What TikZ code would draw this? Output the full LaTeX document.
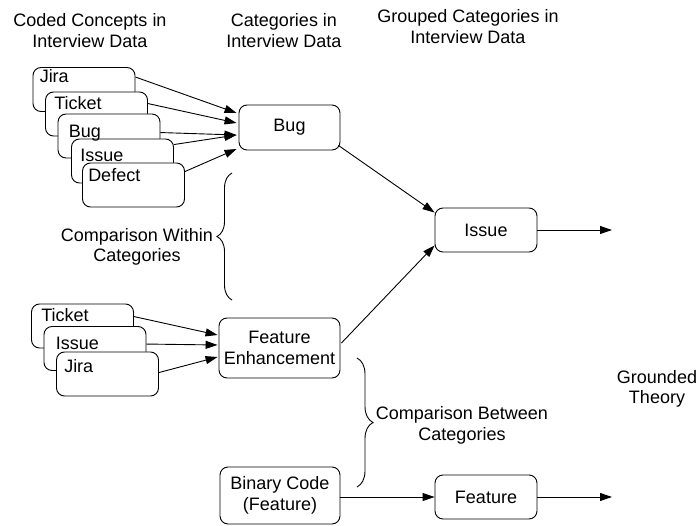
\documentclass[tikz,border=0pt]{standalone}
\usepackage{fontspec}
\setmainfont{Liberation Sans}
\usetikzlibrary{arrows.meta,decorations.pathreplacing,calc}
\begin{document}
\begin{tikzpicture}[x=1pt,y=-1pt,
  every node/.style={font=\fontsize{18pt}{20.5pt}\selectfont},
  stk/.style={draw, rounded corners=8pt, fill=white, minimum width=102pt, minimum height=44pt, inner sep=0pt, line width=0.9pt},
  cat/.style={draw, rounded corners=8pt, fill=white, align=center, inner sep=0pt, line width=0.9pt},
  lbl/.style={anchor=base west, inner sep=0pt},
  hdr/.style={align=center, inner sep=0pt},
  arr/.style={-{Triangle[length=12pt,width=8pt]}, line width=0.9pt},
  brc/.style={decorate, line width=0.9pt}]
\useasboundingbox (0,0) rectangle (699,526);
% headers
\node[hdr] (h1) at (90,30.5) {Coded Concepts in\\Interview Data};
\node[hdr] (h2) at (284,30.5) {Categories in\\Interview Data};
\node[hdr] (h3) at (468,26.5) {Grouped Categories in\\Interview Data};
% coded concepts (bug)
\node[stk] (cj) at (84,89.5) {};
\node[stk] (ct) at (96.5,114) {};
\node[stk] (cb) at (109,136) {};
\node[stk] (ci) at (122.5,161) {};
\node[stk] (cd) at (133.5,185) {};
\node[lbl] (cjt) at ($(cj.north west)+(7,15)$) {Jira};
\node[lbl] (ctt) at ($(ct.north west)+(9,18)$) {Ticket};
\node[lbl] (cbt) at ($(cb.north west)+(11,24)$) {Bug};
\node[lbl] (cit) at ($(ci.north west)+(9,23)$) {Issue};
\node[lbl] (cdt) at ($(cd.north west)+(6,19)$) {Defect};
% coded concepts (feature)
\node[stk] (ft) at (82.5,326) {};
\node[stk] (fi) at (95,348.5) {};
\node[stk] (fj) at (107.5,374) {};
\node[lbl] (ftt) at ($(ft.north west)+(10,18)$) {Ticket};
\node[lbl] (fit) at ($(fi.north west)+(12,23)$) {Issue};
\node[lbl] (fjt) at ($(fj.north west)+(8,21)$) {Jira};
% categories
\node[cat, minimum width=101pt, minimum height=45pt] (bug) at (289.5,127.5) {Bug};
\node[cat, minimum width=121pt, minimum height=60pt] (fe) at (279.5,348) {Feature\\Enhancement};
\node[cat, minimum width=120pt, minimum height=57pt] (bin) at (280,495.5) {Binary Code\\(Feature)};
\node[cat, minimum width=102pt, minimum height=44pt] (iss) at (486,230) {Issue};
\node[cat, minimum width=102pt, minimum height=44pt] (feat) at (486,497) {Feature};
\coordinate (e1) at (612,230);
\coordinate (e2) at (612,497);
% arrows into Bug
\draw[arr] ($(cj.north east)+(0,10)$) -- ($(bug.west)+(-2,-14.5)$);
\draw[arr] ($(ct.north east)+(0,12)$) -- ($(bug.west)+(-2,-4.5)$);
\draw[arr] ($(cb.north east)+(0,19)$) -- ($(bug.west)+(-2,7.5)$);
\draw[arr] ($(ci.north east)+(0,6)$) -- ($(bug.west)+(-2,7.5)$);
\draw[arr] ($(cd.north east)+(0,9)$) -- ($(bug.west)+(-2,21.5)$);
% arrows into Feature Enhancement
\draw[arr] ($(ft.north east)+(0,13)$) -- ($(fe.west)+(-1,-13)$);
\draw[arr] ($(fi.north east)+(0,18)$) -- ($(fe.west)+(-1,-3)$);
\draw[arr] ($(fj.north east)+(0,21)$) -- ($(fe.west)+(-1,9)$);
% grouping arrows
\draw[arr] ($(bug.south east)+(-2,-5)$) -- ($(iss.north west)+(0,5)$);
\draw[arr] ($(fe.east)+(1,-5)$) -- ($(iss.south west)+(0,-7)$);
\draw[arr] (iss.east) -- (e1);
\draw[arr] (bin.east |- feat.west) -- (feat.west);
\draw[arr] (feat.east) -- (e2);
% braces
\coordinate (b1a) at (232,300);
\coordinate (b1b) at (232,173);
\coordinate (b2a) at (357,358);
\coordinate (b2b) at (357,487);
\draw[brc, decoration={brace, amplitude=15pt}] (b1a) -- (b1b);
\draw[brc, decoration={brace, amplitude=16pt}] (b2a) -- (b2b);
% labels
\node[hdr] (cw) at (137,247) {Comparison Within\\Categories};
\node[hdr] (cbw) at (462,425.5) {Comparison Between\\Categories};
\node[hdr] (gt) at (657,389) {Grounded\\Theory};
\end{tikzpicture}
\end{document}
